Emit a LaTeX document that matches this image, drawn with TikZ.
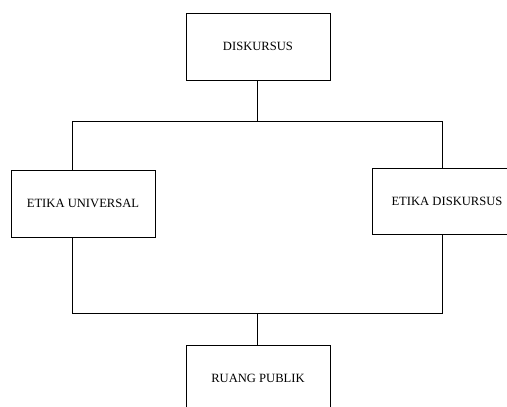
\documentclass[tikz,border=0pt]{standalone}
\usepackage{fontspec}
\setmainfont{Liberation Serif}
\usetikzlibrary{calc}

\begin{document}
\begin{tikzpicture}[x=1pt, y=-1pt, line width = 0.8pt,
            box/.style = {draw, rectangle, minimum width = 144pt, minimum height = 67pt,
                          inner sep = 0pt, font=\fontsize{12.6}{15}\selectfont}
            ]
            \useasboundingbox (0,0) rectangle (507,407);
            \clip (0,0) rectangle (507,407);
            \node[box] (disk) at (258,46.5) {DISKURSUS};
            \node[box] (univ) at (83,203.5) {ETIKA UNIVERSAL};
            \node[box, minimum width = 150pt, minimum height = 66pt] (etika) at (447,201) {ETIKA DISKURSUS};
            \node[box] (publik) at (258,378.5) {RUANG PUBLIK};
            \coordinate (tl) at (72,121);
            \coordinate (tm) at (257,121);
            \coordinate (tr) at (442,121);
            \coordinate (bl) at (72,313);
            \coordinate (bm) at (257,313);
            \coordinate (br) at (442,313);
            \draw (disk.south -| tm) -- (tm);
            \draw (univ.north -| tl) -- (tl) -- (tr) -- (etika.north -| tr);
            \draw (univ.south -| bl) -- (bl) -- (br) -- (etika.south -| br);
            \draw (bm) -- (publik.north -| bm);
        \end{tikzpicture}
\end{document}
